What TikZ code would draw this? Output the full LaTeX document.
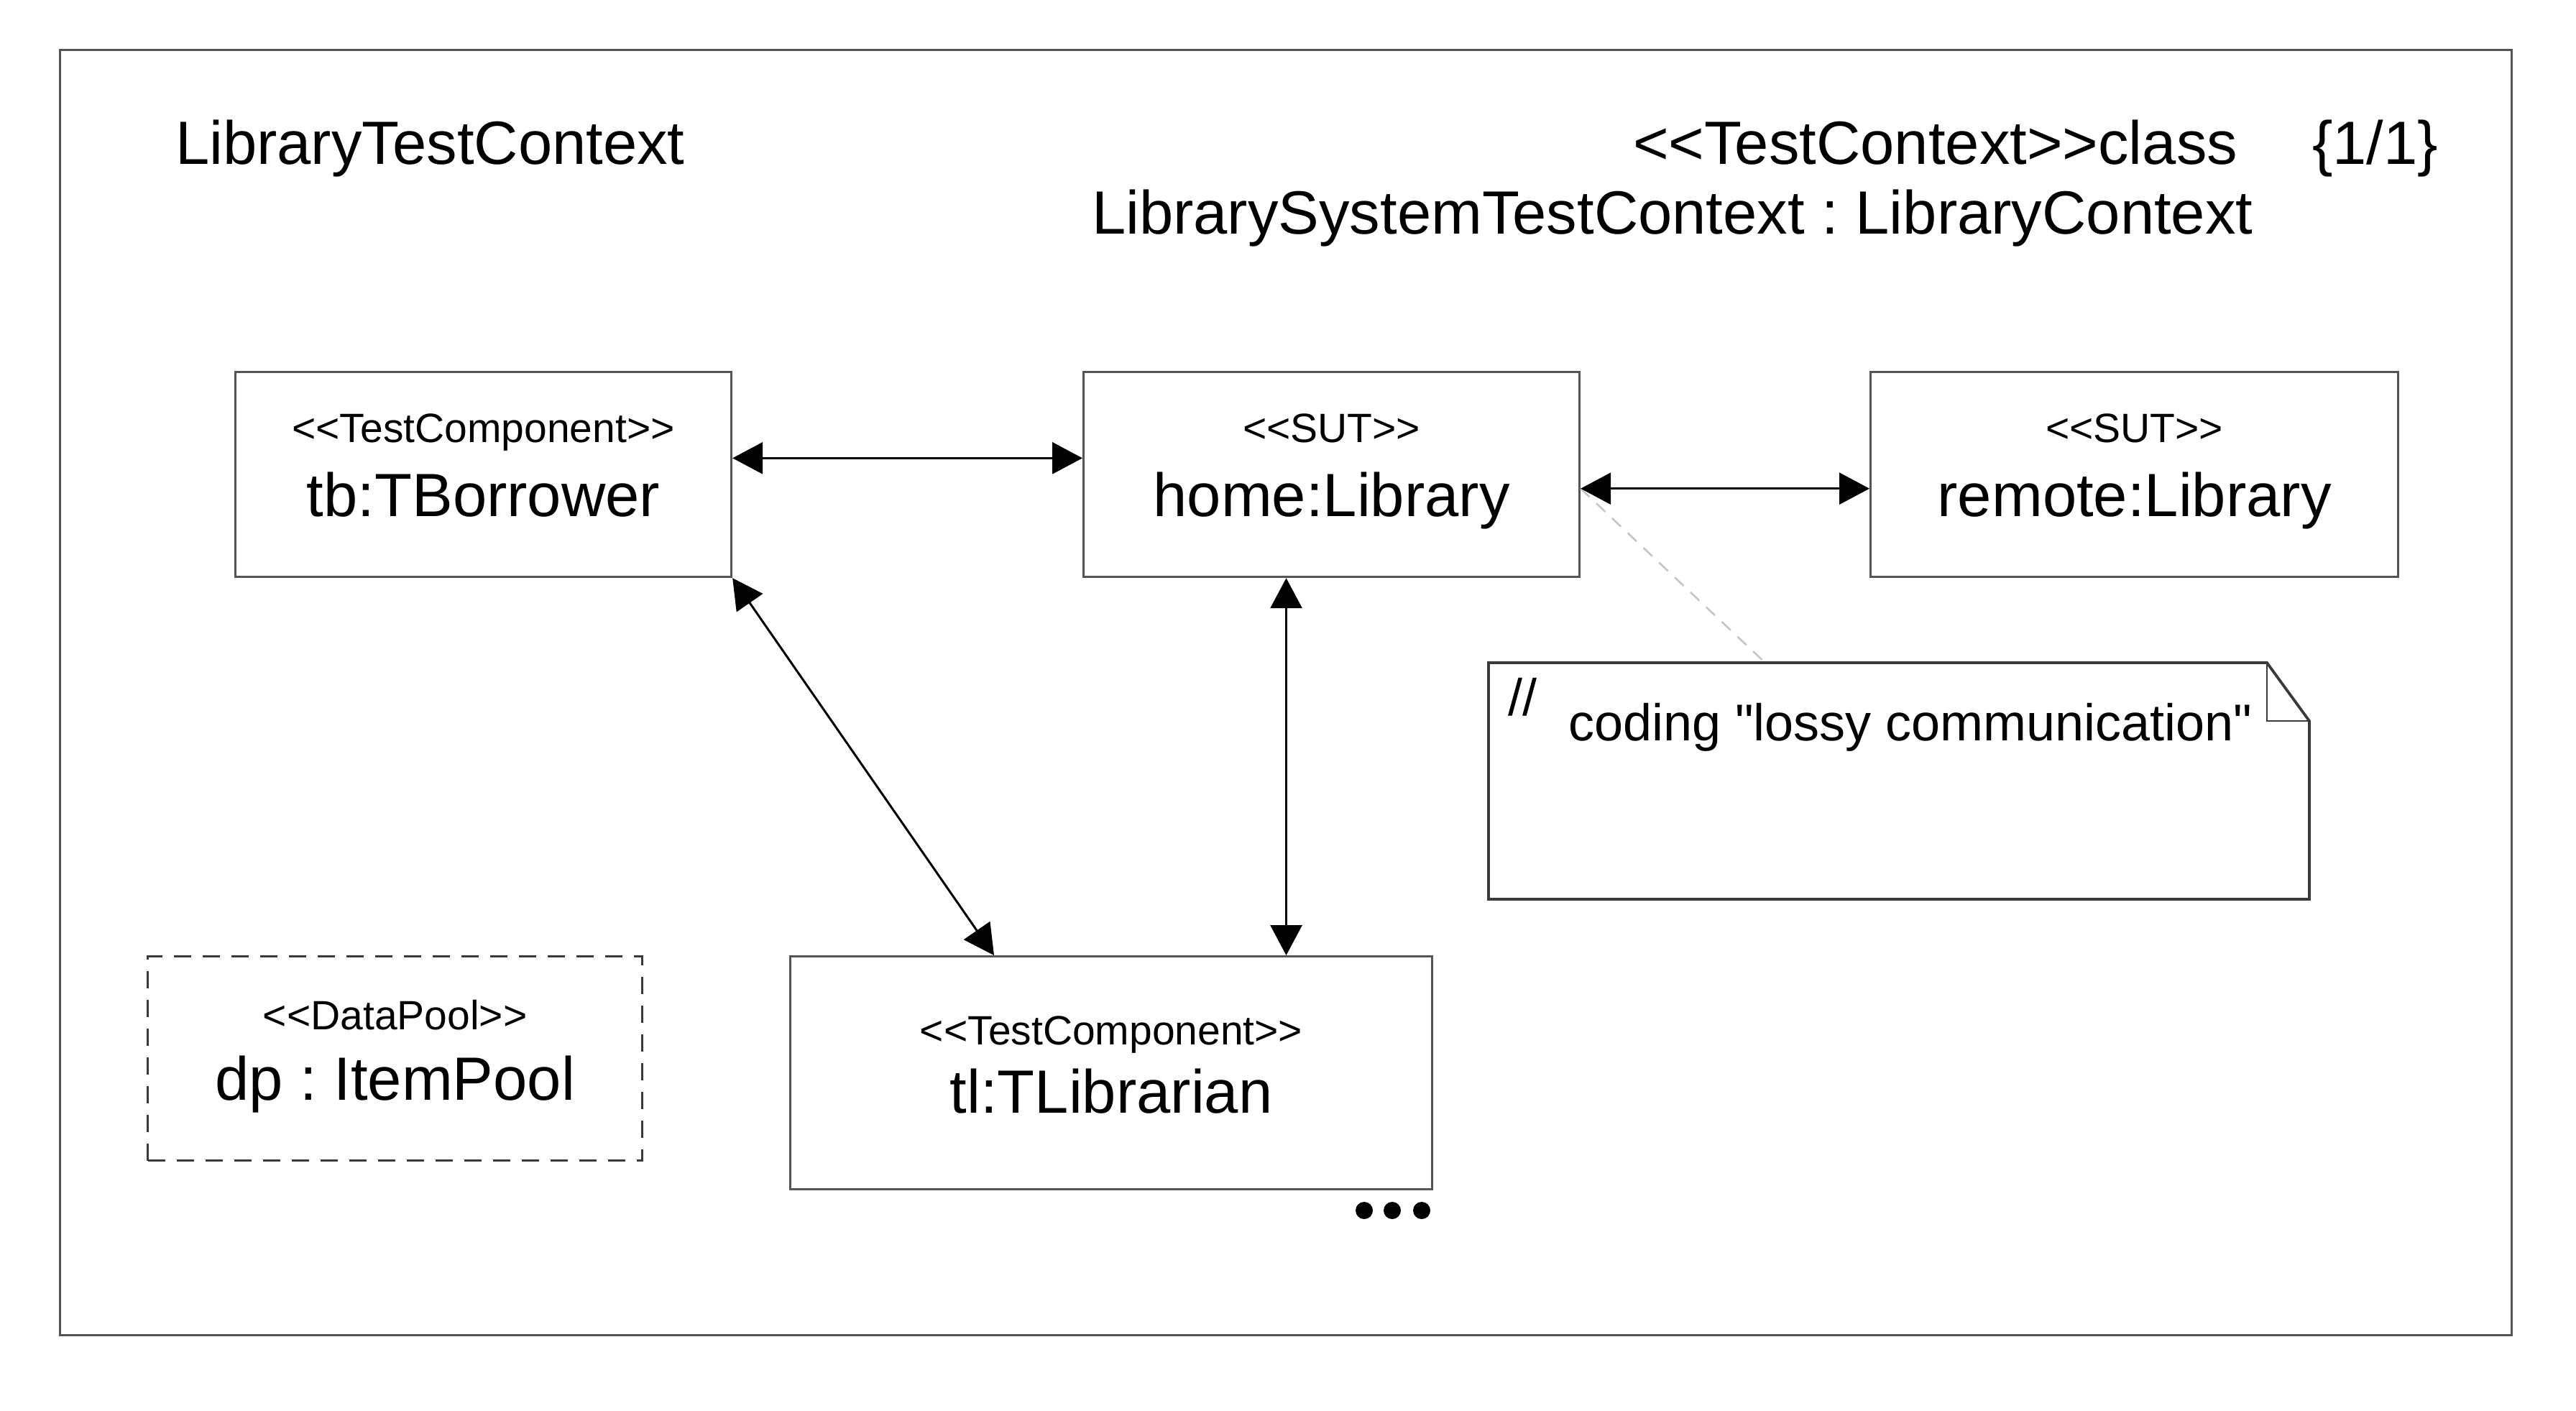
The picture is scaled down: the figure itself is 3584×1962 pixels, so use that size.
\documentclass[tikz,border=0pt]{standalone}
\usepackage{fontspec}
\newfontfamily\umlf{Liberation Sans}
\usetikzlibrary{arrows.meta,calc}
\definecolor{frameC}{HTML}{555555}
\definecolor{boxC}{HTML}{555555}
\definecolor{noteC}{HTML}{3A3A3A}
\definecolor{commentC}{HTML}{C4C4C4}
\frenchspacing
\begin{document}
\begin{tikzpicture}[x=0.1pt,y=-0.1pt,
  box/.style={draw=boxC, line width=0.32pt, inner sep=0pt, anchor=north west},
  bigtext/.style={font=\umlf\frenchspacing\fontsize{8.5}{10}\selectfont, inner sep=0pt},
  stereotext/.style={font=\umlf\fontsize{5.7}{7}\selectfont, inner sep=0pt},
  notetext/.style={font=\umlf\fontsize{7.2}{9}\selectfont, inner sep=0pt},
  arr/.style={line width=0.3pt, {Triangle[length=4.2pt,width=4.4pt]}-{Triangle[length=4.2pt,width=4.4pt]}},
  commentline/.style={draw=commentC, line width=0.25pt, dash pattern=on 1.7pt off 1.3pt}
]
\useasboundingbox (0,0) rectangle (3584,1962);
\fill[white] (0,0) rectangle (3584,1962);

% frame
\node[box, draw=frameC, minimum width=341.1pt, minimum height=178.8pt] (frame) at (82,68) {};
\node[bigtext, anchor=base west] (ctxname) at (242,228) {LibraryTestContext};
\node[bigtext, anchor=base west] (ctxstereo) at (2270,228) {<<TestContext>>class};
\node[bigtext, anchor=base west] (ctxmult) at (3215,228) {\{1/1\}};
\node[bigtext, anchor=base west] (ctxtype) at (1517,325) {LibrarySystemTestContext : LibraryContext};

% boxes
\node[box, minimum width=69pt, minimum height=28.5pt] (tb) at (326,516) {};
\node[stereotext, anchor=base] (tbst) at ($(tb.north)+(0,99)$) {<<TestComponent>>};
\node[bigtext, anchor=base] (tbnm) at ($(tb.north)+(0,202)$) {tb:TBorrower};

\node[box, minimum width=69pt, minimum height=28.5pt] (home) at (1506,516) {};
\node[stereotext, anchor=base] (homest) at ($(home.north)+(0,99)$) {<<SUT>>};
\node[bigtext, anchor=base] (homenm) at ($(home.north)+(0,202)$) {home:Library};

\node[box, minimum width=73.4pt, minimum height=28.5pt] (remote) at (2601,516) {};
\node[stereotext, anchor=base] (remst) at ($(remote.north)+(0,99)$) {<<SUT>>};
\node[bigtext, anchor=base] (remnm) at ($(remote.north)+(0,202)$) {remote:Library};

\node[box, minimum width=89.3pt, minimum height=32.4pt] (tl) at (1098,1329) {};
\node[stereotext, anchor=base] (tlst) at ($(tl.north)+(0,124)$) {<<TestComponent>>};
\node[bigtext, anchor=base] (tlnm) at ($(tl.north)+(0,219)$) {tl:TLibrarian};

\node[box, draw=noteC, dash pattern=on 2.4pt off 1.6pt, minimum width=68.8pt, minimum height=28.4pt] (dp) at (204,1329) {};
\node[stereotext, anchor=base] (dpst) at ($(dp.north)+(0,103)$) {<<DataPool>>};
\node[bigtext, anchor=base] (dpnm) at ($(dp.north)+(0,201)$) {dp : ItemPool};

% note
\node[inner sep=0pt, anchor=north west, minimum width=113.8pt, minimum height=32.5pt] (note) at (2071,922) {};
\draw[draw=noteC, line width=0.38pt, line join=miter]
  (note.north west) -- ([xshift=-5.9pt]note.north east) -- ([yshift=-8.1pt]note.north east)
  -- (note.south east) -- (note.south west) -- cycle;
\draw[draw=noteC, line width=0.25pt]
  ([xshift=-5.9pt]note.north east) -- ([xshift=-5.9pt,yshift=-8.1pt]note.north east) -- ([yshift=-8.1pt]note.north east);
\node[notetext, anchor=base west] (noteslash) at (2096,995) {//};
\node[notetext, anchor=base west] (notebody) at (2180,1030) {coding "lossy communication"};

% connector anchor points
\coordinate (tbE) at ($(tb.north east)!0.421!(tb.south east)$);
\coordinate (homeW) at (tbE -| home.west);
\coordinate (homeE) at ($(home.north east)!0.568!(home.south east)$);
\coordinate (remW) at (homeE -| remote.west);
\coordinate (tlN1) at ($(tl.north west)!0.318!(tl.north east)$);
\coordinate (homeS) at ($(home.south west)!0.409!(home.south east)$);
\coordinate (tlN2) at (homeS |- tl.north);
\coordinate (noteN) at ($(note.north west)!0.337!(note.north east)$);

\draw[commentline] (homeE) -- (noteN);
\draw[arr] (tbE) -- (homeW);
\draw[arr] (homeE) -- (remW);
\draw[arr] (tb.south east) -- (tlN1);
\draw[arr] (homeS) -- (tlN2);

% ellipsis dots
\fill (1898,1684) circle[radius=1.2pt];
\fill (1937,1684) circle[radius=1.2pt];
\fill (1978,1684) circle[radius=1.2pt];
\end{tikzpicture}
\end{document}
